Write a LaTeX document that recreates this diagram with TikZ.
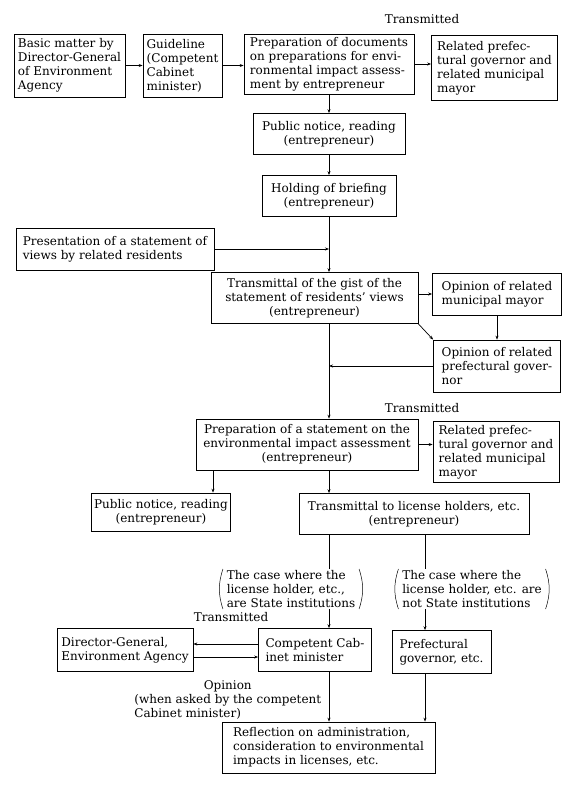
\documentclass[tikz,border=0pt]{standalone}
\usepackage{fontspec}
\setmainfont{DejaVu Serif}
\usetikzlibrary{arrows.meta}
\begin{document}
\fontsize{12}{14}\selectfont
\begin{tikzpicture}[x=1pt,y=-1pt,line width=0.7pt]
    \tikzstyle{box}=[draw, rectangle, inner sep=2.5pt, align=left]
    \tikzstyle{cbox}=[draw, rectangle, inner sep=2.5pt, align=center]
    \tikzstyle{case}=[inner xsep=3.5pt, inner ysep=1pt, align=left]
    \tikzstyle{ar}=[-{Stealth[length=4pt,width=3pt]}]
    \useasboundingbox (0,0) rectangle (573,791);
    \coordinate (m) at (329,0);
    \coordinate (c1) at (213,0);
    \coordinate (c2) at (425,0);
    \node (t1) at (422,19) {Transmitted};
    \node[box, minimum width=111pt, minimum height=63pt] (b1) at (69.5,65.5) {Basic matter by\\Director-General\\of Environment\\Agency};
    \node[box, minimum width=79pt, minimum height=63pt] (b2) at (182.5,65.5) {Guideline\\(Competent\\Cabinet\\minister)};
    \node[box, minimum width=170pt, minimum height=60pt] (b3) at (329,64) {Preparation of documents\\on preparations for envi-\\ronmental impact assess-\\ment by entrepreneur};
    \node[box, minimum width=126pt, minimum height=65pt] (b4) at (494.5,68) {Related prefec-\\tural governor and\\related municipal\\mayor};
    \node[cbox, minimum width=152pt, minimum height=41pt] (pn1) at (329,134) {Public notice, reading\\(entrepreneur)};
    \node[cbox, minimum width=134pt, minimum height=41pt] (hb) at (329,196) {Holding of briefing\\(entrepreneur)};
    \node[box, minimum width=198pt, minimum height=42pt] (pr) at (115,249) {Presentation of a statement of\\views by related residents};
    \node[cbox, minimum width=207pt, minimum height=51pt] (tg) at (314.5,298) {Transmittal of the gist of the\\statement of residents' views\\(entrepreneur)};
    \node[box, minimum width=129pt, minimum height=42pt] (om) at (497,294) {Opinion of related\\municipal mayor};
    \node[box, minimum width=127pt, minimum height=52pt] (og) at (497,366) {Opinion of related\\prefectural gover-\\nor};
    \node (t2) at (422,408) {Transmitted};
    \node[cbox, minimum width=222pt, minimum height=51pt] (ps) at (307,444.5) {Preparation of a statement on the\\environmental impact assessment\\(entrepreneur)};
    \node[box, minimum width=126pt, minimum height=61pt] (b4b) at (496,452) {Related prefec-\\tural governor and\\related municipal\\mayor};
    \node[cbox, minimum width=138pt, minimum height=38pt] (pn2) at (161,512) {Public notice, reading\\(entrepreneur)};
    \node[cbox, minimum width=230pt, minimum height=41pt] (tl) at (414,514) {Transmittal to license holders, etc.\\(entrepreneur)};
    \node[case] (k1) at (291,589) {The case where the\\license holder, etc.,\\are State institutions};
    \node[case] (k2) at (472,589) {The case where the\\license holder, etc. are\\not State institutions};
    \node (t3) at (231,617) {Transmitted};
    \node[box, minimum width=136pt, minimum height=43pt] (dg) at (125,650) {Director-General,\\Environment Agency};
    \node[box, minimum width=113pt, minimum height=43pt] (cc) at (315,650) {Competent Cab-\\inet minister};
    \node[box, minimum width=99pt, minimum height=43pt] (pg) at (441.5,652) {Prefectural\\governor, etc.};
    \node[anchor=north west, inner sep=0pt] (op) at (134,679) {\begin{tabular}{@{}l@{}}\multicolumn{1}{@{}c@{}}{Opinion}\\(when asked by the competent\\Cabinet minister)\end{tabular}};
    \node[box, minimum width=213pt, minimum height=51pt] (rf) at (328.5,747.5) {Reflection on administration,\\consideration to environmental\\impacts in licenses, etc.};
    \foreach \k in {k1,k2} {
      \draw[line width=0.5pt] (\k.north west) to[bend right=18] (\k.south west);
      \draw[line width=0.5pt] (\k.north east) to[bend left=18] (\k.south east);
    }
    \draw[ar] (b1) -- (b2); \draw[ar] (b2.east) -- (b2.east -| b3.west);
    \draw[ar] (b3.east) -- (b3.east -| b4.west);
    \draw[ar] (b3.south -| m) -- (pn1.north -| m);
    \draw[ar] (pn1.south -| m) -- (hb.north -| m);
    \draw[ar] (hb.south -| m) -- (tg.north -| m);
    \draw[ar] (pr.east) -- (pr.east -| m);
    \draw[ar] (tg.east |- om.west) -- (om.west);
    \draw[ar] (tg.south east) -- (og.north west);
    \draw[ar] (om) -- (og);
    \draw[ar] (og.west) -- (og.west -| m);
    \draw[ar] (tg.south -| m) -- (ps.north -| m);
    \draw[ar] (ps.east) -- (ps.east -| b4b.west);
    \draw[ar] (ps.south -| c1) -- (pn2.north -| c1);
    \draw[ar] (ps.south -| m) -- (tl.north -| m);
    \draw (tl.south -| m) -- (k1.north -| m);
    \draw[ar] (k1.south -| m) -- (cc.north -| m);
    \draw (tl.south -| c2) -- (k2.north -| c2);
    \draw[ar] (k2.south -| c2) -- (pg.north -| c2);
    \draw[ar] ([yshift=6pt]cc.west) -- ([yshift=6pt]cc.west -| dg.east);
    \draw[ar] ([yshift=-7pt]dg.east) -- ([yshift=-7pt]dg.east -| cc.west);
    \draw[ar] (cc.south -| m) -- (rf.north -| m);
    \draw[ar] (pg.south -| c2) -- (rf.north -| c2);
\end{tikzpicture}
\end{document}
